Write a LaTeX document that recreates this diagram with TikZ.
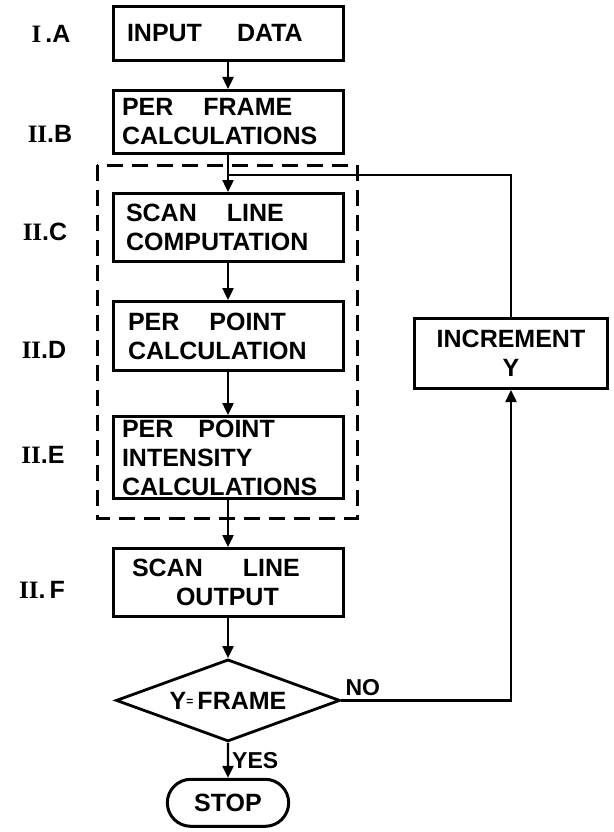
\documentclass[tikz,border=0pt]{standalone}
\usepackage{fontspec}
\setmainfont{Liberation Serif}
\setsansfont{Liberation Sans}
\usetikzlibrary{positioning,arrows.meta,shapes.geometric,shapes.misc}

\begin{document}
\begin{tikzpicture}[
  x=1pt, y=1pt,
  font=\sffamily\bfseries\fontsize{25}{29}\selectfont,
  block/.style={draw, line width=3pt, align=left, inner xsep=9pt, inner ysep=0pt, text width=212pt},
  decide/.style={draw, diamond, line width=2.8pt, inner sep=0pt, shape aspect=2.67, minimum width=224pt, minimum height=82pt},
  term/.style={draw, rounded rectangle, line width=3pt, minimum width=128pt, minimum height=47pt},
  tag/.style={font=\sffamily\bfseries\fontsize{25}{28}\selectfont},
  lab/.style={font=\sffamily\bfseries\fontsize{23}{26}\selectfont, inner sep=3pt},
  arr/.style={-{Triangle[length=12pt, width=11pt]}, line width=2.4pt},
  link/.style={line width=2.4pt},
  dashbox/.style={line width=3pt, dash pattern=on 16pt off 9pt}
]
\useasboundingbox (0,0) rectangle (613,-832);

\node[block, minimum height=54pt] (in) at (228,-33.5) {\hspace{5pt}INPUT\hspace{1.4em}DATA};
\node[block, minimum height=63pt, below=27pt of in] (frame) {PER\hspace{1.2em}FRAME\\CALCULATIONS};
\node[block, minimum height=68pt, below=37pt of frame] (scan) {\hspace{4pt}SCAN\hspace{1.2em}LINE\\\hspace{4pt}COMPUTATION};
\node[block, minimum height=69pt, below=37pt of scan] (perpt) {\hspace{6pt}PER\hspace{1.2em}POINT\\\hspace{6pt}CALCULATION};
\node[block, minimum height=82pt, below=43pt of perpt] (intens) {PER\hspace{1em}POINT\\INTENSITY\\CALCULATIONS};
\node[block, minimum height=68pt, below=47pt of intens] (out) {\hspace{10pt}SCAN\hspace{1.6em}LINE\\\hspace{54pt}OUTPUT};
\node[decide, below=40pt of out] (dec) {Y\raisebox{4pt}{\fontsize{12}{12}\selectfont=}\,FRAME};
\node[term, below=35pt of dec] (stop) {STOP};
\node[block, align=center, text width=175pt, minimum height=70pt] (incr) at (511,-353.5) {INCREMENT\\Y};

% section tags
\node[tag] (tA) at (51,-34) {{\rmfamily I}\,.A};
\node[tag] (tB) at (50,-134) {{\rmfamily II}.B};
\node[tag] (tC) at (45,-232) {{\rmfamily II}.C};
\node[tag] (tD) at (44,-350) {{\rmfamily II}.D};
\node[tag] (tE) at (43,-455) {{\rmfamily II}.E};
\node[tag] (tF) at (42,-590) {{\rmfamily II}.\,F};

% per scan line loop
\draw[dashbox] (97,-165) rectangle (357,-518);
\coordinate[below=20pt of frame.south] (join);

\draw[arr] (in) -- (frame);
\draw[arr] (frame) -- (scan);
\draw[arr] (scan) -- (perpt);
\draw[arr] (perpt) -- (intens);
\draw[arr] (intens) -- (out);
\draw[arr] (out) -- (dec);
\draw[arr] (dec) -- node[lab, midway, right] {YES} (stop);
\draw[arr] (dec.east) -| node[lab, pos=0, above right] {NO} (incr.south);
\draw[link] (incr.north) |- (join);
\end{tikzpicture}
\end{document}
